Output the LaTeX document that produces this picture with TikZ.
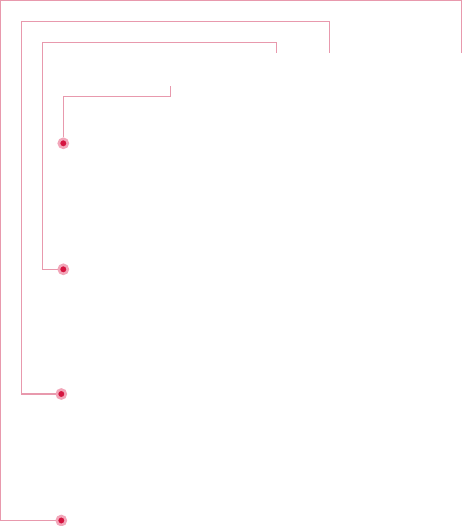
\documentclass[tikz,border=0pt]{standalone}
\definecolor{linepink}{HTML}{E899AD}
\definecolor{dotred}{HTML}{D5143F}
\definecolor{halo}{HTML}{F2A6B9}
\begin{document}
\begin{tikzpicture}[x=1pt,y=-1pt,
  conn/.style={draw=linepink,line width=1.1pt},
  dotnode/.style={circle,fill=dotred,draw=halo,line width=2.6pt,minimum size=9pt,inner sep=0pt}]
\useasboundingbox (0,0) rectangle (462,526);
\node[dotnode] (d1) at (63.3,143.3) {};
\node[dotnode] (d2) at (63.3,269.3) {};
\node[dotnode] (d3) at (61.3,394) {};
\node[dotnode] (d4) at (61.3,520.5) {};
\coordinate (e1) at (170.5,86);
\coordinate (e2) at (276.5,53);
\coordinate (e3) at (329.3,53);
\coordinate (e4) at (461.2,53);
\draw[conn] (d1.north) -- (63.3,96.3) -- (170.5,96.3) -- (e1);
\draw[conn] (d2.west) -- (42.5,269.3) -- (42.5,42.5) -- (276.5,42.5) -- (e2);
\draw[conn] (d3.west) -- (21.5,394) -- (21.5,21.5) -- (329.3,21.5) -- (e3);
\draw[conn] (d4.west) -- (0.6,520.5) -- (0.6,0.6) -- (461.2,0.6) -- (e4);
\end{tikzpicture}
\end{document}
